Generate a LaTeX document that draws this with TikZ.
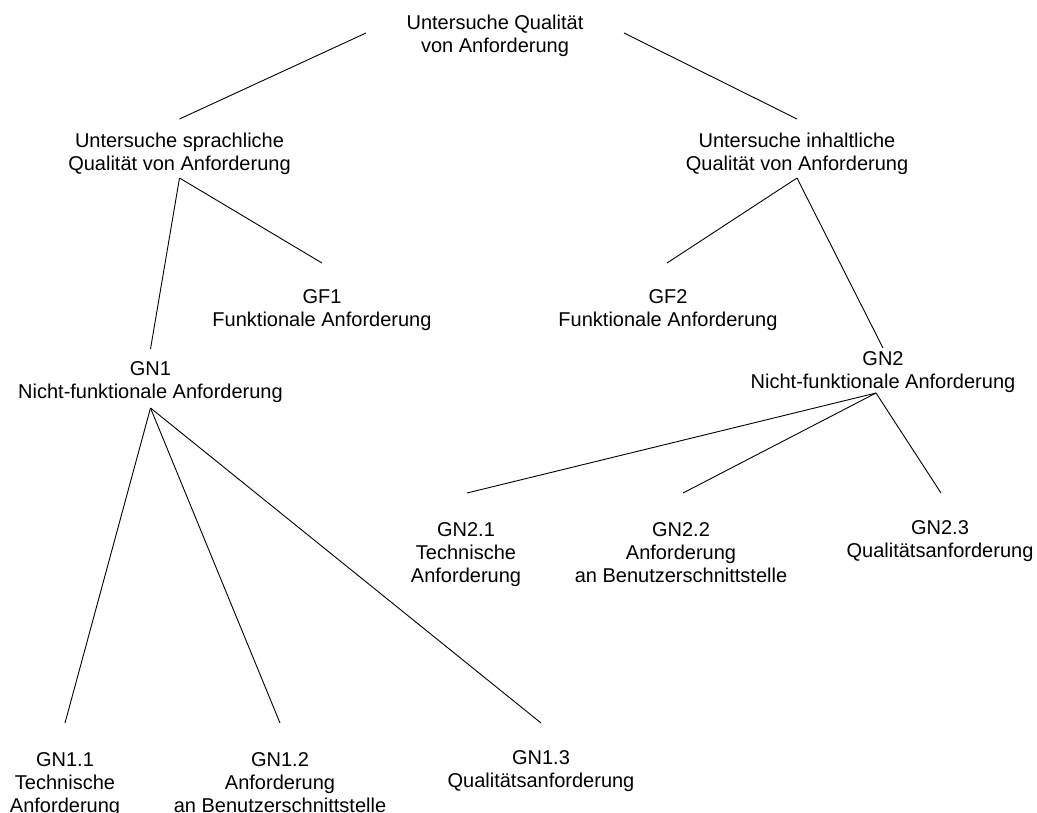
\documentclass[tikz,border=0pt]{standalone}
\usepackage{fontspec}
\setmainfont{Liberation Sans}
\begin{document}
\begin{tikzpicture}[x=1pt,y=-1pt,
  lbl/.style={anchor=north, inner sep=0pt, outer sep=0pt, align=center,
              font=\fontsize{20}{23}\selectfont},
  edge/.style={draw=black, line width=0.9pt}]
\useasboundingbox (0,0) rectangle (1037,812);
% nodes (positioned by top of text)
\node[lbl] (root) at (495,15)   {Untersuche Qualität\\von Anforderung};
\node[lbl] (sl)   at (179.5,133) {Untersuche sprachliche\\Qualität von Anforderung};
\node[lbl] (il)   at (797,133)  {Untersuche inhaltliche\\Qualität von Anforderung};
\node[lbl] (gf1)  at (322,290)  {GF1\\Funktionale Anforderung};
\node[lbl] (gf2)  at (668,290)  {GF2\\Funktionale Anforderung};
\node[lbl] (gn1)  at (150.5,362) {GN1\\Nicht-funktionale Anforderung};
\node[lbl] (gn2)  at (883,352)  {GN2\\Nicht-funktionale Anforderung};
\node[lbl] (gn21) at (466,523)  {GN2.1\\Technische\\Anforderung};
\node[lbl] (gn22) at (681,523)  {GN2.2\\Anforderung\\an Benutzerschnittstelle};
\node[lbl] (gn23) at (940,521)  {GN2.3\\Qualitätsanforderung};
\node[lbl] (gn11) at (65,753)   {GN1.1\\Technische\\Anforderung};
\node[lbl] (gn12) at (280,753)  {GN1.2\\Anforderung\\an Benutzerschnittstelle};
\node[lbl] (gn13) at (541,751)  {GN1.3\\Qualitätsanforderung};
% connectors
\draw[edge] ([xshift=-129pt,yshift=-18pt]root.north) -- ([yshift=14pt]sl.north);
\draw[edge] ([xshift=129pt,yshift=-18pt]root.north) -- ([yshift=14pt]il.north);
\draw[edge] ([yshift=-45pt]sl.north) -- ([yshift=13pt]gn1.north);
\draw[edge] ([yshift=-45pt]sl.north) -- ([yshift=27pt]gf1.north);
\draw[edge] ([yshift=-45pt]il.north) -- ([xshift=-1pt,yshift=27pt]gf2.north);
\draw[edge] ([yshift=-45pt]il.north) -- ([yshift=4pt]gn2.north);
\draw[edge] ([yshift=-46pt]gn1.north) -- ([yshift=30pt]gn11.north);
\draw[edge] ([yshift=-46pt]gn1.north) -- ([yshift=30pt]gn12.north);
\draw[edge] ([yshift=-46pt]gn1.north) -- ([yshift=28pt]gn13.north);
\draw[edge] ([xshift=-7pt,yshift=-41pt]gn2.north) -- ([xshift=1pt,yshift=30pt]gn21.north);
\draw[edge] ([xshift=-7pt,yshift=-41pt]gn2.north) -- ([xshift=2pt,yshift=30pt]gn22.north);
\draw[edge] ([xshift=-7pt,yshift=-41pt]gn2.north) -- ([xshift=1pt,yshift=28pt]gn23.north);
\end{tikzpicture}
\end{document}
